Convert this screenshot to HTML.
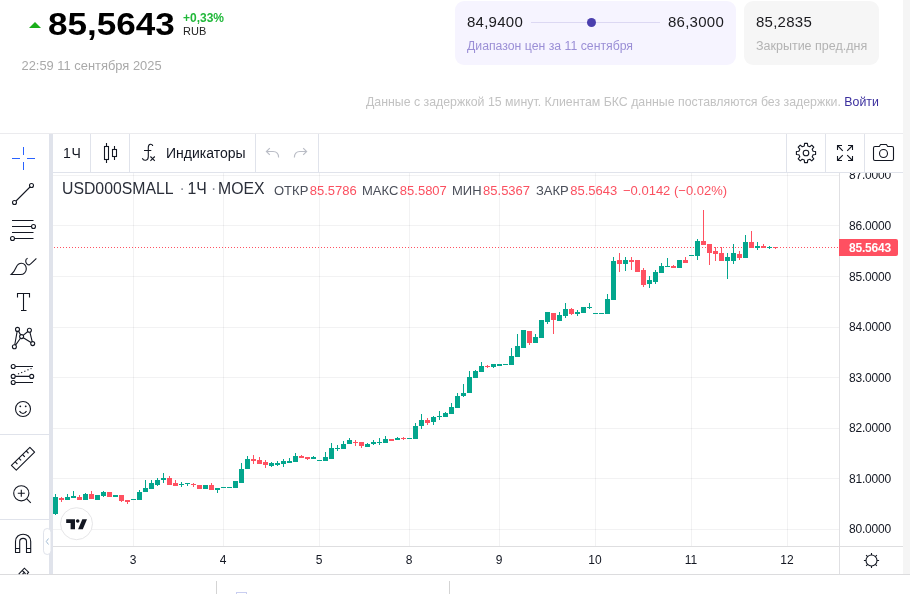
<!DOCTYPE html>
<html lang="ru"><head><meta charset="utf-8"><title>USD000SMALL</title>
<style>
*{box-sizing:border-box;margin:0;padding:0}
html,body{width:910px;height:594px;overflow:hidden;background:#fff}
body{position:relative;font-family:"Liberation Sans",sans-serif;color:#131722}
.abs{position:absolute;white-space:nowrap}
.strip{left:903px;top:0;width:7px;height:574px;background:#f5f5f5}
.big{left:48px;top:7px;font-size:30.5px;line-height:34px;font-weight:700;color:#000;transform:scaleX(1.15);transform-origin:0 0;letter-spacing:0}
.tri{left:29px;top:22px;width:0;height:0;border-left:6px solid transparent;border-right:6px solid transparent;border-bottom:6px solid #1aae1a}
.pct{left:183px;top:11px;font-size:12px;line-height:14px;font-weight:700;color:#21b83a}
.rub{left:183px;top:25px;font-size:11px;line-height:13px;color:#222}
.date{left:21.500px;top:58px;font-size:12.900px;line-height:16px;color:#a9a9a9}
.box1{left:455px;top:1px;width:281px;height:64px;border-radius:9px;background:#f6f4ff}
.box2{left:744px;top:1px;width:135px;height:64px;border-radius:9px;background:#f6f6f6}
.v{font-size:15px;line-height:18px;color:#1b1b1f;letter-spacing:0.250px}
.cap1{left:467px;top:38px;font-size:12.28px;line-height:16px;color:#9b8fd6}
.cap2{left:756px;top:38px;font-size:12.5px;line-height:16px;color:#b3b3b3}
.rline{left:531px;top:22px;width:129px;height:1px;background:#dcd8f3}
.rdot{left:587px;top:18px;width:9px;height:9px;border-radius:50%;background:#4b3fae}
.note{left:366px;top:94px;font-size:12.33px;line-height:16px;color:#c2c2c2}
.note b{font-weight:400;color:#3b2f9e}
.sep{background:#e0e3eb}
.tb{font-size:14px;line-height:16px;color:#131722}
.t16{top:179px;font-size:15.800px;line-height:20px;color:#2a2e39} .t16.dot{color:#8a8e99}
.leg{top:183px;font-size:13px;line-height:16px}
.leg .g{color:#4a4e59;margin-right:1.500px} .leg .r{color:#fb5060}
.pl{position:absolute;left:849px;width:44px;font-size:12px;line-height:16px;color:#131722;white-space:nowrap;letter-spacing:-0.200px}
.tl{position:absolute;top:552px;width:40px;text-align:center;font-size:12px;line-height:16px;color:#131722}
svg{position:absolute;left:0;top:0;overflow:visible}
.ic{fill:none;stroke:#131722;stroke-width:1}
</style></head><body>
<div class="abs strip"></div>

<div class="abs tri"></div>
<div class="abs big">85,5643</div>
<div class="abs pct">+0,33%</div>
<div class="abs rub">RUB</div>
<div class="abs date">22:59 11 сентября 2025</div>

<div class="abs box1"></div>
<div class="abs v" style="left:467px;top:13px">84,9400</div>
<div class="abs rline"></div><div class="abs rdot"></div>
<div class="abs v" style="left:668px;top:13px">86,3000</div>
<div class="abs cap1">Диапазон цен за 11 сентября</div>
<div class="abs box2"></div>
<div class="abs v" style="left:756px;top:13px">85,2835</div>
<div class="abs cap2">Закрытие пред.дня</div>

<div class="abs note">Данные с задержкой 15 минут. Клиентам БКС данные поставляются без задержки. <b>Войти</b></div>

<!-- widget frame -->
<div class="abs" style="left:0;top:133px;width:903px;height:1px;background:#ebebee"></div>
<div class="abs" style="left:0;top:574px;width:910px;height:1px;background:#dcdcde"></div>
<div class="abs sep" style="left:49px;top:134px;width:4px;height:440px"></div>
<div class="abs sep" style="left:53px;top:172px;width:850px;height:1px"></div>
<!-- top toolbar separators -->
<div class="abs sep" style="left:90px;top:134px;width:1px;height:38px"></div>
<div class="abs sep" style="left:129px;top:134px;width:1px;height:38px"></div>
<div class="abs sep" style="left:255px;top:134px;width:1px;height:38px"></div>
<div class="abs sep" style="left:318px;top:134px;width:1px;height:38px"></div>
<div class="abs sep" style="left:786px;top:134px;width:1px;height:38px"></div>
<div class="abs sep" style="left:825px;top:134px;width:1px;height:38px"></div>
<div class="abs sep" style="left:864px;top:134px;width:1px;height:38px"></div>
<!-- left toolbar separators -->
<div class="abs sep" style="left:0;top:434px;width:49px;height:1px"></div>
<div class="abs sep" style="left:0;top:519px;width:49px;height:1px"></div>

<div class="abs tb" style="left:63px;top:145px;letter-spacing:0.600px">1Ч</div>
<div class="abs tb" style="left:166px;top:145px">Индикаторы</div>

<!-- chart pane -->
<svg width="910" height="594" viewBox="0 0 910 594" shape-rendering="crispEdges">
<rect x="53" y="175" width="786" height="1" fill="#2a2e39" fill-opacity="0.062"/><rect x="53" y="225" width="786" height="1" fill="#2a2e39" fill-opacity="0.062"/><rect x="53" y="276" width="786" height="1" fill="#2a2e39" fill-opacity="0.062"/><rect x="53" y="327" width="786" height="1" fill="#2a2e39" fill-opacity="0.062"/><rect x="53" y="377" width="786" height="1" fill="#2a2e39" fill-opacity="0.062"/><rect x="53" y="428" width="786" height="1" fill="#2a2e39" fill-opacity="0.062"/><rect x="53" y="478" width="786" height="1" fill="#2a2e39" fill-opacity="0.062"/><rect x="53" y="529" width="786" height="1" fill="#2a2e39" fill-opacity="0.062"/><rect x="133" y="173" width="1" height="373" fill="#2a2e39" fill-opacity="0.062"/><rect x="223" y="173" width="1" height="373" fill="#2a2e39" fill-opacity="0.062"/><rect x="319" y="173" width="1" height="373" fill="#2a2e39" fill-opacity="0.062"/><rect x="409" y="173" width="1" height="373" fill="#2a2e39" fill-opacity="0.062"/><rect x="499" y="173" width="1" height="373" fill="#2a2e39" fill-opacity="0.062"/><rect x="595" y="173" width="1" height="373" fill="#2a2e39" fill-opacity="0.062"/><rect x="691" y="173" width="1" height="373" fill="#2a2e39" fill-opacity="0.062"/><rect x="787" y="173" width="1" height="373" fill="#2a2e39" fill-opacity="0.062"/>
<rect x="839" y="173" width="1" height="401" fill="#e0e0e3"/>
<rect x="53" y="546" width="850" height="1" fill="#dedee0"/>
<g id="dotline"><rect x="54" y="247" width="1" height="1" fill="#ff5161"/><rect x="57" y="247" width="1" height="1" fill="#ff5161"/><rect x="60" y="247" width="1" height="1" fill="#ff5161"/><rect x="63" y="247" width="1" height="1" fill="#ff5161"/><rect x="66" y="247" width="1" height="1" fill="#ff5161"/><rect x="69" y="247" width="1" height="1" fill="#ff5161"/><rect x="72" y="247" width="1" height="1" fill="#ff5161"/><rect x="75" y="247" width="1" height="1" fill="#ff5161"/><rect x="78" y="247" width="1" height="1" fill="#ff5161"/><rect x="81" y="247" width="1" height="1" fill="#ff5161"/><rect x="84" y="247" width="1" height="1" fill="#ff5161"/><rect x="87" y="247" width="1" height="1" fill="#ff5161"/><rect x="90" y="247" width="1" height="1" fill="#ff5161"/><rect x="93" y="247" width="1" height="1" fill="#ff5161"/><rect x="96" y="247" width="1" height="1" fill="#ff5161"/><rect x="99" y="247" width="1" height="1" fill="#ff5161"/><rect x="102" y="247" width="1" height="1" fill="#ff5161"/><rect x="105" y="247" width="1" height="1" fill="#ff5161"/><rect x="108" y="247" width="1" height="1" fill="#ff5161"/><rect x="111" y="247" width="1" height="1" fill="#ff5161"/><rect x="114" y="247" width="1" height="1" fill="#ff5161"/><rect x="117" y="247" width="1" height="1" fill="#ff5161"/><rect x="120" y="247" width="1" height="1" fill="#ff5161"/><rect x="123" y="247" width="1" height="1" fill="#ff5161"/><rect x="126" y="247" width="1" height="1" fill="#ff5161"/><rect x="129" y="247" width="1" height="1" fill="#ff5161"/><rect x="132" y="247" width="1" height="1" fill="#ff5161"/><rect x="135" y="247" width="1" height="1" fill="#ff5161"/><rect x="138" y="247" width="1" height="1" fill="#ff5161"/><rect x="141" y="247" width="1" height="1" fill="#ff5161"/><rect x="144" y="247" width="1" height="1" fill="#ff5161"/><rect x="147" y="247" width="1" height="1" fill="#ff5161"/><rect x="150" y="247" width="1" height="1" fill="#ff5161"/><rect x="153" y="247" width="1" height="1" fill="#ff5161"/><rect x="156" y="247" width="1" height="1" fill="#ff5161"/><rect x="159" y="247" width="1" height="1" fill="#ff5161"/><rect x="162" y="247" width="1" height="1" fill="#ff5161"/><rect x="165" y="247" width="1" height="1" fill="#ff5161"/><rect x="168" y="247" width="1" height="1" fill="#ff5161"/><rect x="171" y="247" width="1" height="1" fill="#ff5161"/><rect x="174" y="247" width="1" height="1" fill="#ff5161"/><rect x="177" y="247" width="1" height="1" fill="#ff5161"/><rect x="180" y="247" width="1" height="1" fill="#ff5161"/><rect x="183" y="247" width="1" height="1" fill="#ff5161"/><rect x="186" y="247" width="1" height="1" fill="#ff5161"/><rect x="189" y="247" width="1" height="1" fill="#ff5161"/><rect x="192" y="247" width="1" height="1" fill="#ff5161"/><rect x="195" y="247" width="1" height="1" fill="#ff5161"/><rect x="198" y="247" width="1" height="1" fill="#ff5161"/><rect x="201" y="247" width="1" height="1" fill="#ff5161"/><rect x="204" y="247" width="1" height="1" fill="#ff5161"/><rect x="207" y="247" width="1" height="1" fill="#ff5161"/><rect x="210" y="247" width="1" height="1" fill="#ff5161"/><rect x="213" y="247" width="1" height="1" fill="#ff5161"/><rect x="216" y="247" width="1" height="1" fill="#ff5161"/><rect x="219" y="247" width="1" height="1" fill="#ff5161"/><rect x="222" y="247" width="1" height="1" fill="#ff5161"/><rect x="225" y="247" width="1" height="1" fill="#ff5161"/><rect x="228" y="247" width="1" height="1" fill="#ff5161"/><rect x="231" y="247" width="1" height="1" fill="#ff5161"/><rect x="234" y="247" width="1" height="1" fill="#ff5161"/><rect x="237" y="247" width="1" height="1" fill="#ff5161"/><rect x="240" y="247" width="1" height="1" fill="#ff5161"/><rect x="243" y="247" width="1" height="1" fill="#ff5161"/><rect x="246" y="247" width="1" height="1" fill="#ff5161"/><rect x="249" y="247" width="1" height="1" fill="#ff5161"/><rect x="252" y="247" width="1" height="1" fill="#ff5161"/><rect x="255" y="247" width="1" height="1" fill="#ff5161"/><rect x="258" y="247" width="1" height="1" fill="#ff5161"/><rect x="261" y="247" width="1" height="1" fill="#ff5161"/><rect x="264" y="247" width="1" height="1" fill="#ff5161"/><rect x="267" y="247" width="1" height="1" fill="#ff5161"/><rect x="270" y="247" width="1" height="1" fill="#ff5161"/><rect x="273" y="247" width="1" height="1" fill="#ff5161"/><rect x="276" y="247" width="1" height="1" fill="#ff5161"/><rect x="279" y="247" width="1" height="1" fill="#ff5161"/><rect x="282" y="247" width="1" height="1" fill="#ff5161"/><rect x="285" y="247" width="1" height="1" fill="#ff5161"/><rect x="288" y="247" width="1" height="1" fill="#ff5161"/><rect x="291" y="247" width="1" height="1" fill="#ff5161"/><rect x="294" y="247" width="1" height="1" fill="#ff5161"/><rect x="297" y="247" width="1" height="1" fill="#ff5161"/><rect x="300" y="247" width="1" height="1" fill="#ff5161"/><rect x="303" y="247" width="1" height="1" fill="#ff5161"/><rect x="306" y="247" width="1" height="1" fill="#ff5161"/><rect x="309" y="247" width="1" height="1" fill="#ff5161"/><rect x="312" y="247" width="1" height="1" fill="#ff5161"/><rect x="315" y="247" width="1" height="1" fill="#ff5161"/><rect x="318" y="247" width="1" height="1" fill="#ff5161"/><rect x="321" y="247" width="1" height="1" fill="#ff5161"/><rect x="324" y="247" width="1" height="1" fill="#ff5161"/><rect x="327" y="247" width="1" height="1" fill="#ff5161"/><rect x="330" y="247" width="1" height="1" fill="#ff5161"/><rect x="333" y="247" width="1" height="1" fill="#ff5161"/><rect x="336" y="247" width="1" height="1" fill="#ff5161"/><rect x="339" y="247" width="1" height="1" fill="#ff5161"/><rect x="342" y="247" width="1" height="1" fill="#ff5161"/><rect x="345" y="247" width="1" height="1" fill="#ff5161"/><rect x="348" y="247" width="1" height="1" fill="#ff5161"/><rect x="351" y="247" width="1" height="1" fill="#ff5161"/><rect x="354" y="247" width="1" height="1" fill="#ff5161"/><rect x="357" y="247" width="1" height="1" fill="#ff5161"/><rect x="360" y="247" width="1" height="1" fill="#ff5161"/><rect x="363" y="247" width="1" height="1" fill="#ff5161"/><rect x="366" y="247" width="1" height="1" fill="#ff5161"/><rect x="369" y="247" width="1" height="1" fill="#ff5161"/><rect x="372" y="247" width="1" height="1" fill="#ff5161"/><rect x="375" y="247" width="1" height="1" fill="#ff5161"/><rect x="378" y="247" width="1" height="1" fill="#ff5161"/><rect x="381" y="247" width="1" height="1" fill="#ff5161"/><rect x="384" y="247" width="1" height="1" fill="#ff5161"/><rect x="387" y="247" width="1" height="1" fill="#ff5161"/><rect x="390" y="247" width="1" height="1" fill="#ff5161"/><rect x="393" y="247" width="1" height="1" fill="#ff5161"/><rect x="396" y="247" width="1" height="1" fill="#ff5161"/><rect x="399" y="247" width="1" height="1" fill="#ff5161"/><rect x="402" y="247" width="1" height="1" fill="#ff5161"/><rect x="405" y="247" width="1" height="1" fill="#ff5161"/><rect x="408" y="247" width="1" height="1" fill="#ff5161"/><rect x="411" y="247" width="1" height="1" fill="#ff5161"/><rect x="414" y="247" width="1" height="1" fill="#ff5161"/><rect x="417" y="247" width="1" height="1" fill="#ff5161"/><rect x="420" y="247" width="1" height="1" fill="#ff5161"/><rect x="423" y="247" width="1" height="1" fill="#ff5161"/><rect x="426" y="247" width="1" height="1" fill="#ff5161"/><rect x="429" y="247" width="1" height="1" fill="#ff5161"/><rect x="432" y="247" width="1" height="1" fill="#ff5161"/><rect x="435" y="247" width="1" height="1" fill="#ff5161"/><rect x="438" y="247" width="1" height="1" fill="#ff5161"/><rect x="441" y="247" width="1" height="1" fill="#ff5161"/><rect x="444" y="247" width="1" height="1" fill="#ff5161"/><rect x="447" y="247" width="1" height="1" fill="#ff5161"/><rect x="450" y="247" width="1" height="1" fill="#ff5161"/><rect x="453" y="247" width="1" height="1" fill="#ff5161"/><rect x="456" y="247" width="1" height="1" fill="#ff5161"/><rect x="459" y="247" width="1" height="1" fill="#ff5161"/><rect x="462" y="247" width="1" height="1" fill="#ff5161"/><rect x="465" y="247" width="1" height="1" fill="#ff5161"/><rect x="468" y="247" width="1" height="1" fill="#ff5161"/><rect x="471" y="247" width="1" height="1" fill="#ff5161"/><rect x="474" y="247" width="1" height="1" fill="#ff5161"/><rect x="477" y="247" width="1" height="1" fill="#ff5161"/><rect x="480" y="247" width="1" height="1" fill="#ff5161"/><rect x="483" y="247" width="1" height="1" fill="#ff5161"/><rect x="486" y="247" width="1" height="1" fill="#ff5161"/><rect x="489" y="247" width="1" height="1" fill="#ff5161"/><rect x="492" y="247" width="1" height="1" fill="#ff5161"/><rect x="495" y="247" width="1" height="1" fill="#ff5161"/><rect x="498" y="247" width="1" height="1" fill="#ff5161"/><rect x="501" y="247" width="1" height="1" fill="#ff5161"/><rect x="504" y="247" width="1" height="1" fill="#ff5161"/><rect x="507" y="247" width="1" height="1" fill="#ff5161"/><rect x="510" y="247" width="1" height="1" fill="#ff5161"/><rect x="513" y="247" width="1" height="1" fill="#ff5161"/><rect x="516" y="247" width="1" height="1" fill="#ff5161"/><rect x="519" y="247" width="1" height="1" fill="#ff5161"/><rect x="522" y="247" width="1" height="1" fill="#ff5161"/><rect x="525" y="247" width="1" height="1" fill="#ff5161"/><rect x="528" y="247" width="1" height="1" fill="#ff5161"/><rect x="531" y="247" width="1" height="1" fill="#ff5161"/><rect x="534" y="247" width="1" height="1" fill="#ff5161"/><rect x="537" y="247" width="1" height="1" fill="#ff5161"/><rect x="540" y="247" width="1" height="1" fill="#ff5161"/><rect x="543" y="247" width="1" height="1" fill="#ff5161"/><rect x="546" y="247" width="1" height="1" fill="#ff5161"/><rect x="549" y="247" width="1" height="1" fill="#ff5161"/><rect x="552" y="247" width="1" height="1" fill="#ff5161"/><rect x="555" y="247" width="1" height="1" fill="#ff5161"/><rect x="558" y="247" width="1" height="1" fill="#ff5161"/><rect x="561" y="247" width="1" height="1" fill="#ff5161"/><rect x="564" y="247" width="1" height="1" fill="#ff5161"/><rect x="567" y="247" width="1" height="1" fill="#ff5161"/><rect x="570" y="247" width="1" height="1" fill="#ff5161"/><rect x="573" y="247" width="1" height="1" fill="#ff5161"/><rect x="576" y="247" width="1" height="1" fill="#ff5161"/><rect x="579" y="247" width="1" height="1" fill="#ff5161"/><rect x="582" y="247" width="1" height="1" fill="#ff5161"/><rect x="585" y="247" width="1" height="1" fill="#ff5161"/><rect x="588" y="247" width="1" height="1" fill="#ff5161"/><rect x="591" y="247" width="1" height="1" fill="#ff5161"/><rect x="594" y="247" width="1" height="1" fill="#ff5161"/><rect x="597" y="247" width="1" height="1" fill="#ff5161"/><rect x="600" y="247" width="1" height="1" fill="#ff5161"/><rect x="603" y="247" width="1" height="1" fill="#ff5161"/><rect x="606" y="247" width="1" height="1" fill="#ff5161"/><rect x="609" y="247" width="1" height="1" fill="#ff5161"/><rect x="612" y="247" width="1" height="1" fill="#ff5161"/><rect x="615" y="247" width="1" height="1" fill="#ff5161"/><rect x="618" y="247" width="1" height="1" fill="#ff5161"/><rect x="621" y="247" width="1" height="1" fill="#ff5161"/><rect x="624" y="247" width="1" height="1" fill="#ff5161"/><rect x="627" y="247" width="1" height="1" fill="#ff5161"/><rect x="630" y="247" width="1" height="1" fill="#ff5161"/><rect x="633" y="247" width="1" height="1" fill="#ff5161"/><rect x="636" y="247" width="1" height="1" fill="#ff5161"/><rect x="639" y="247" width="1" height="1" fill="#ff5161"/><rect x="642" y="247" width="1" height="1" fill="#ff5161"/><rect x="645" y="247" width="1" height="1" fill="#ff5161"/><rect x="648" y="247" width="1" height="1" fill="#ff5161"/><rect x="651" y="247" width="1" height="1" fill="#ff5161"/><rect x="654" y="247" width="1" height="1" fill="#ff5161"/><rect x="657" y="247" width="1" height="1" fill="#ff5161"/><rect x="660" y="247" width="1" height="1" fill="#ff5161"/><rect x="663" y="247" width="1" height="1" fill="#ff5161"/><rect x="666" y="247" width="1" height="1" fill="#ff5161"/><rect x="669" y="247" width="1" height="1" fill="#ff5161"/><rect x="672" y="247" width="1" height="1" fill="#ff5161"/><rect x="675" y="247" width="1" height="1" fill="#ff5161"/><rect x="678" y="247" width="1" height="1" fill="#ff5161"/><rect x="681" y="247" width="1" height="1" fill="#ff5161"/><rect x="684" y="247" width="1" height="1" fill="#ff5161"/><rect x="687" y="247" width="1" height="1" fill="#ff5161"/><rect x="690" y="247" width="1" height="1" fill="#ff5161"/><rect x="693" y="247" width="1" height="1" fill="#ff5161"/><rect x="696" y="247" width="1" height="1" fill="#ff5161"/><rect x="699" y="247" width="1" height="1" fill="#ff5161"/><rect x="702" y="247" width="1" height="1" fill="#ff5161"/><rect x="705" y="247" width="1" height="1" fill="#ff5161"/><rect x="708" y="247" width="1" height="1" fill="#ff5161"/><rect x="711" y="247" width="1" height="1" fill="#ff5161"/><rect x="714" y="247" width="1" height="1" fill="#ff5161"/><rect x="717" y="247" width="1" height="1" fill="#ff5161"/><rect x="720" y="247" width="1" height="1" fill="#ff5161"/><rect x="723" y="247" width="1" height="1" fill="#ff5161"/><rect x="726" y="247" width="1" height="1" fill="#ff5161"/><rect x="729" y="247" width="1" height="1" fill="#ff5161"/><rect x="732" y="247" width="1" height="1" fill="#ff5161"/><rect x="735" y="247" width="1" height="1" fill="#ff5161"/><rect x="738" y="247" width="1" height="1" fill="#ff5161"/><rect x="741" y="247" width="1" height="1" fill="#ff5161"/><rect x="744" y="247" width="1" height="1" fill="#ff5161"/><rect x="747" y="247" width="1" height="1" fill="#ff5161"/><rect x="750" y="247" width="1" height="1" fill="#ff5161"/><rect x="753" y="247" width="1" height="1" fill="#ff5161"/><rect x="756" y="247" width="1" height="1" fill="#ff5161"/><rect x="759" y="247" width="1" height="1" fill="#ff5161"/><rect x="762" y="247" width="1" height="1" fill="#ff5161"/><rect x="765" y="247" width="1" height="1" fill="#ff5161"/><rect x="768" y="247" width="1" height="1" fill="#ff5161"/><rect x="771" y="247" width="1" height="1" fill="#ff5161"/><rect x="774" y="247" width="1" height="1" fill="#ff5161"/><rect x="777" y="247" width="1" height="1" fill="#ff5161"/><rect x="780" y="247" width="1" height="1" fill="#ff5161"/><rect x="783" y="247" width="1" height="1" fill="#ff5161"/><rect x="786" y="247" width="1" height="1" fill="#ff5161"/><rect x="789" y="247" width="1" height="1" fill="#ff5161"/><rect x="792" y="247" width="1" height="1" fill="#ff5161"/><rect x="795" y="247" width="1" height="1" fill="#ff5161"/><rect x="798" y="247" width="1" height="1" fill="#ff5161"/><rect x="801" y="247" width="1" height="1" fill="#ff5161"/><rect x="804" y="247" width="1" height="1" fill="#ff5161"/><rect x="807" y="247" width="1" height="1" fill="#ff5161"/><rect x="810" y="247" width="1" height="1" fill="#ff5161"/><rect x="813" y="247" width="1" height="1" fill="#ff5161"/><rect x="816" y="247" width="1" height="1" fill="#ff5161"/><rect x="819" y="247" width="1" height="1" fill="#ff5161"/><rect x="822" y="247" width="1" height="1" fill="#ff5161"/><rect x="825" y="247" width="1" height="1" fill="#ff5161"/><rect x="828" y="247" width="1" height="1" fill="#ff5161"/><rect x="831" y="247" width="1" height="1" fill="#ff5161"/><rect x="834" y="247" width="1" height="1" fill="#ff5161"/><rect x="837" y="247" width="1" height="1" fill="#ff5161"/></g>
<svg x="53" y="174" width="786" height="372" viewBox="53 174 786 372" style="position:static">
<rect x="53" y="497" width="5" height="17" fill="#03a68d"/>
<rect x="55" y="494" width="1" height="21" fill="#03a68d"/>
<rect x="59" y="498" width="5" height="2" fill="#ff5161"/>
<rect x="61" y="497" width="1" height="5" fill="#ff5161"/>
<rect x="65" y="497" width="5" height="3" fill="#03a68d"/>
<rect x="67" y="494" width="1" height="6" fill="#03a68d"/>
<rect x="71" y="496" width="5" height="2" fill="#03a68d"/>
<rect x="73" y="491" width="1" height="7" fill="#03a68d"/>
<rect x="77" y="497" width="5" height="3" fill="#ff5161"/>
<rect x="79" y="495" width="1" height="5" fill="#ff5161"/>
<rect x="83" y="494" width="5" height="6" fill="#03a68d"/>
<rect x="85" y="493" width="1" height="7" fill="#03a68d"/>
<rect x="89" y="494" width="5" height="5" fill="#ff5161"/>
<rect x="91" y="491" width="1" height="8" fill="#ff5161"/>
<rect x="95" y="495" width="5" height="5" fill="#03a68d"/>
<rect x="101" y="492" width="5" height="4" fill="#03a68d"/>
<rect x="103" y="491" width="1" height="6" fill="#03a68d"/>
<rect x="107" y="492" width="5" height="5" fill="#ff5161"/>
<rect x="113" y="495" width="5" height="2" fill="#03a68d"/>
<rect x="119" y="495" width="5" height="6" fill="#ff5161"/>
<rect x="121" y="495" width="1" height="7" fill="#ff5161"/>
<rect x="125" y="500" width="5" height="2" fill="#ff5161"/>
<rect x="127" y="500" width="1" height="4" fill="#ff5161"/>
<rect x="131" y="499" width="5" height="1" fill="#03a68d"/>
<rect x="137" y="492" width="5" height="8" fill="#03a68d"/>
<rect x="139" y="490" width="1" height="10" fill="#03a68d"/>
<rect x="143" y="488" width="5" height="4" fill="#03a68d"/>
<rect x="145" y="480" width="1" height="12" fill="#03a68d"/>
<rect x="149" y="483" width="5" height="6" fill="#03a68d"/>
<rect x="151" y="480" width="1" height="9" fill="#03a68d"/>
<rect x="155" y="480" width="5" height="5" fill="#03a68d"/>
<rect x="157" y="478" width="1" height="8" fill="#03a68d"/>
<rect x="161" y="478" width="5" height="2" fill="#03a68d"/>
<rect x="163" y="473" width="1" height="10" fill="#03a68d"/>
<rect x="167" y="478" width="5" height="7" fill="#ff5161"/>
<rect x="169" y="476" width="1" height="9" fill="#ff5161"/>
<rect x="173" y="483" width="5" height="3" fill="#ff5161"/>
<rect x="175" y="480" width="1" height="6" fill="#ff5161"/>
<rect x="179" y="484" width="5" height="1" fill="#03a68d"/>
<rect x="181" y="482" width="1" height="5" fill="#03a68d"/>
<rect x="185" y="483" width="5" height="1" fill="#03a68d"/>
<rect x="187" y="483" width="1" height="3" fill="#03a68d"/>
<rect x="191" y="484" width="5" height="1" fill="#ff5161"/>
<rect x="193" y="483" width="1" height="4" fill="#ff5161"/>
<rect x="197" y="485" width="5" height="4" fill="#ff5161"/>
<rect x="203" y="485" width="5" height="4" fill="#03a68d"/>
<rect x="209" y="485" width="5" height="5" fill="#ff5161"/>
<rect x="211" y="483" width="1" height="7" fill="#ff5161"/>
<rect x="215" y="488" width="5" height="2" fill="#03a68d"/>
<rect x="217" y="488" width="1" height="5" fill="#03a68d"/>
<rect x="221" y="487" width="5" height="1" fill="#03a68d"/>
<rect x="227" y="487" width="5" height="1" fill="#03a68d"/>
<rect x="233" y="481" width="5" height="7" fill="#03a68d"/>
<rect x="239" y="469" width="5" height="14" fill="#03a68d"/>
<rect x="241" y="463" width="1" height="20" fill="#03a68d"/>
<rect x="245" y="459" width="5" height="10" fill="#03a68d"/>
<rect x="247" y="456" width="1" height="13" fill="#03a68d"/>
<rect x="251" y="459" width="5" height="2" fill="#ff5161"/>
<rect x="253" y="455" width="1" height="9" fill="#ff5161"/>
<rect x="257" y="460" width="5" height="4" fill="#ff5161"/>
<rect x="259" y="457" width="1" height="7" fill="#ff5161"/>
<rect x="263" y="462" width="5" height="3" fill="#ff5161"/>
<rect x="265" y="460" width="1" height="8" fill="#ff5161"/>
<rect x="269" y="463" width="5" height="3" fill="#03a68d"/>
<rect x="271" y="462" width="1" height="5" fill="#03a68d"/>
<rect x="275" y="463" width="5" height="2" fill="#03a68d"/>
<rect x="277" y="461" width="1" height="5" fill="#03a68d"/>
<rect x="281" y="461" width="5" height="3" fill="#03a68d"/>
<rect x="283" y="459" width="1" height="8" fill="#03a68d"/>
<rect x="287" y="461" width="5" height="2" fill="#03a68d"/>
<rect x="289" y="458" width="1" height="5" fill="#03a68d"/>
<rect x="293" y="456" width="5" height="6" fill="#03a68d"/>
<rect x="295" y="453" width="1" height="9" fill="#03a68d"/>
<rect x="299" y="456" width="5" height="2" fill="#ff5161"/>
<rect x="301" y="455" width="1" height="3" fill="#ff5161"/>
<rect x="305" y="457" width="5" height="2" fill="#ff5161"/>
<rect x="307" y="457" width="1" height="3" fill="#ff5161"/>
<rect x="311" y="457" width="5" height="2" fill="#03a68d"/>
<rect x="313" y="456" width="1" height="3" fill="#03a68d"/>
<rect x="317" y="460" width="5" height="1" fill="#03a68d"/>
<rect x="323" y="457" width="5" height="4" fill="#03a68d"/>
<rect x="325" y="452" width="1" height="9" fill="#03a68d"/>
<rect x="329" y="448" width="5" height="11" fill="#03a68d"/>
<rect x="331" y="443" width="1" height="16" fill="#03a68d"/>
<rect x="335" y="448" width="5" height="1" fill="#03a68d"/>
<rect x="337" y="445" width="1" height="6" fill="#03a68d"/>
<rect x="341" y="444" width="5" height="5" fill="#03a68d"/>
<rect x="343" y="441" width="1" height="8" fill="#03a68d"/>
<rect x="347" y="440" width="5" height="4" fill="#03a68d"/>
<rect x="349" y="438" width="1" height="6" fill="#03a68d"/>
<rect x="353" y="442" width="5" height="1" fill="#ff5161"/>
<rect x="355" y="440" width="1" height="6" fill="#ff5161"/>
<rect x="359" y="442" width="5" height="4" fill="#ff5161"/>
<rect x="361" y="442" width="1" height="6" fill="#ff5161"/>
<rect x="365" y="444" width="5" height="3" fill="#03a68d"/>
<rect x="367" y="443" width="1" height="4" fill="#03a68d"/>
<rect x="371" y="442" width="5" height="2" fill="#03a68d"/>
<rect x="373" y="440" width="1" height="5" fill="#03a68d"/>
<rect x="377" y="442" width="5" height="1" fill="#03a68d"/>
<rect x="379" y="438" width="1" height="7" fill="#03a68d"/>
<rect x="383" y="439" width="5" height="4" fill="#03a68d"/>
<rect x="385" y="436" width="1" height="7" fill="#03a68d"/>
<rect x="389" y="439" width="5" height="2" fill="#ff5161"/>
<rect x="395" y="438" width="5" height="2" fill="#03a68d"/>
<rect x="397" y="437" width="1" height="3" fill="#03a68d"/>
<rect x="401" y="438" width="5" height="1" fill="#ff5161"/>
<rect x="403" y="437" width="1" height="3" fill="#ff5161"/>
<rect x="407" y="438" width="5" height="1" fill="#03a68d"/>
<rect x="413" y="426" width="5" height="13" fill="#03a68d"/>
<rect x="415" y="423" width="1" height="16" fill="#03a68d"/>
<rect x="419" y="420" width="5" height="6" fill="#03a68d"/>
<rect x="421" y="414" width="1" height="15" fill="#03a68d"/>
<rect x="425" y="420" width="5" height="3" fill="#ff5161"/>
<rect x="427" y="418" width="1" height="7" fill="#ff5161"/>
<rect x="431" y="417" width="5" height="5" fill="#03a68d"/>
<rect x="433" y="416" width="1" height="9" fill="#03a68d"/>
<rect x="437" y="416" width="5" height="1" fill="#03a68d"/>
<rect x="439" y="411" width="1" height="9" fill="#03a68d"/>
<rect x="443" y="413" width="5" height="4" fill="#03a68d"/>
<rect x="445" y="412" width="1" height="5" fill="#03a68d"/>
<rect x="449" y="407" width="5" height="7" fill="#03a68d"/>
<rect x="451" y="403" width="1" height="11" fill="#03a68d"/>
<rect x="455" y="396" width="5" height="12" fill="#03a68d"/>
<rect x="457" y="393" width="1" height="15" fill="#03a68d"/>
<rect x="461" y="393" width="5" height="3" fill="#03a68d"/>
<rect x="463" y="384" width="1" height="13" fill="#03a68d"/>
<rect x="467" y="377" width="5" height="16" fill="#03a68d"/>
<rect x="469" y="371" width="1" height="22" fill="#03a68d"/>
<rect x="473" y="371" width="5" height="7" fill="#03a68d"/>
<rect x="475" y="370" width="1" height="8" fill="#03a68d"/>
<rect x="479" y="366" width="5" height="6" fill="#03a68d"/>
<rect x="481" y="362" width="1" height="10" fill="#03a68d"/>
<rect x="485" y="366" width="5" height="1" fill="#ff5161"/>
<rect x="487" y="365" width="1" height="3" fill="#ff5161"/>
<rect x="491" y="364" width="5" height="3" fill="#03a68d"/>
<rect x="493" y="364" width="1" height="4" fill="#03a68d"/>
<rect x="497" y="364" width="5" height="2" fill="#03a68d"/>
<rect x="503" y="364" width="5" height="1" fill="#03a68d"/>
<rect x="509" y="356" width="5" height="9" fill="#03a68d"/>
<rect x="511" y="348" width="1" height="17" fill="#03a68d"/>
<rect x="515" y="346" width="5" height="11" fill="#03a68d"/>
<rect x="517" y="334" width="1" height="23" fill="#03a68d"/>
<rect x="521" y="330" width="5" height="18" fill="#03a68d"/>
<rect x="527" y="331" width="5" height="12" fill="#ff5161"/>
<rect x="529" y="331" width="1" height="14" fill="#ff5161"/>
<rect x="533" y="337" width="5" height="6" fill="#03a68d"/>
<rect x="535" y="334" width="1" height="9" fill="#03a68d"/>
<rect x="539" y="320" width="5" height="18" fill="#03a68d"/>
<rect x="545" y="312" width="5" height="10" fill="#03a68d"/>
<rect x="547" y="312" width="1" height="12" fill="#03a68d"/>
<rect x="551" y="313" width="5" height="7" fill="#ff5161"/>
<rect x="553" y="313" width="1" height="21" fill="#ff5161"/>
<rect x="557" y="315" width="5" height="6" fill="#03a68d"/>
<rect x="559" y="312" width="1" height="9" fill="#03a68d"/>
<rect x="563" y="309" width="5" height="7" fill="#03a68d"/>
<rect x="565" y="303" width="1" height="15" fill="#03a68d"/>
<rect x="569" y="309" width="5" height="5" fill="#ff5161"/>
<rect x="571" y="308" width="1" height="7" fill="#ff5161"/>
<rect x="575" y="312" width="5" height="2" fill="#03a68d"/>
<rect x="577" y="310" width="1" height="6" fill="#03a68d"/>
<rect x="581" y="307" width="5" height="6" fill="#03a68d"/>
<rect x="587" y="307" width="5" height="1" fill="#03a68d"/>
<rect x="589" y="303" width="1" height="6" fill="#03a68d"/>
<rect x="593" y="313" width="5" height="1" fill="#03a68d"/>
<rect x="599" y="313" width="5" height="1" fill="#03a68d"/>
<rect x="605" y="299" width="5" height="15" fill="#03a68d"/>
<rect x="607" y="294" width="1" height="20" fill="#03a68d"/>
<rect x="611" y="261" width="5" height="39" fill="#03a68d"/>
<rect x="613" y="257" width="1" height="43" fill="#03a68d"/>
<rect x="617" y="260" width="5" height="4" fill="#ff5161"/>
<rect x="619" y="253" width="1" height="19" fill="#ff5161"/>
<rect x="623" y="260" width="5" height="4" fill="#03a68d"/>
<rect x="625" y="257" width="1" height="14" fill="#03a68d"/>
<rect x="629" y="260" width="5" height="2" fill="#ff5161"/>
<rect x="631" y="257" width="1" height="13" fill="#ff5161"/>
<rect x="635" y="260" width="5" height="12" fill="#ff5161"/>
<rect x="641" y="270" width="5" height="15" fill="#ff5161"/>
<rect x="643" y="268" width="1" height="19" fill="#ff5161"/>
<rect x="647" y="280" width="5" height="4" fill="#03a68d"/>
<rect x="649" y="276" width="1" height="12" fill="#03a68d"/>
<rect x="653" y="272" width="5" height="10" fill="#03a68d"/>
<rect x="655" y="270" width="1" height="14" fill="#03a68d"/>
<rect x="659" y="266" width="5" height="7" fill="#03a68d"/>
<rect x="661" y="263" width="1" height="10" fill="#03a68d"/>
<rect x="665" y="266" width="5" height="1" fill="#03a68d"/>
<rect x="667" y="258" width="1" height="9" fill="#03a68d"/>
<rect x="671" y="266" width="5" height="2" fill="#ff5161"/>
<rect x="673" y="265" width="1" height="3" fill="#ff5161"/>
<rect x="677" y="260" width="5" height="8" fill="#03a68d"/>
<rect x="683" y="260" width="5" height="3" fill="#ff5161"/>
<rect x="685" y="257" width="1" height="6" fill="#ff5161"/>
<rect x="689" y="255" width="5" height="1" fill="#03a68d"/>
<rect x="695" y="241" width="5" height="15" fill="#03a68d"/>
<rect x="697" y="239" width="1" height="21" fill="#03a68d"/>
<rect x="701" y="241" width="5" height="4" fill="#ff5161"/>
<rect x="703" y="210" width="1" height="35" fill="#ff5161"/>
<rect x="707" y="244" width="5" height="9" fill="#ff5161"/>
<rect x="709" y="244" width="1" height="21" fill="#ff5161"/>
<rect x="713" y="251" width="5" height="3" fill="#ff5161"/>
<rect x="715" y="247" width="1" height="14" fill="#ff5161"/>
<rect x="719" y="253" width="5" height="8" fill="#ff5161"/>
<rect x="721" y="247" width="1" height="14" fill="#ff5161"/>
<rect x="725" y="257" width="5" height="4" fill="#03a68d"/>
<rect x="727" y="253" width="1" height="26" fill="#03a68d"/>
<rect x="731" y="253" width="5" height="8" fill="#03a68d"/>
<rect x="733" y="244" width="1" height="20" fill="#03a68d"/>
<rect x="737" y="254" width="5" height="4" fill="#ff5161"/>
<rect x="739" y="251" width="1" height="9" fill="#ff5161"/>
<rect x="743" y="242" width="5" height="16" fill="#03a68d"/>
<rect x="745" y="235" width="1" height="23" fill="#03a68d"/>
<rect x="749" y="242" width="5" height="6" fill="#ff5161"/>
<rect x="751" y="231" width="1" height="17" fill="#ff5161"/>
<rect x="755" y="246" width="5" height="2" fill="#03a68d"/>
<rect x="757" y="242" width="1" height="8" fill="#03a68d"/>
<rect x="761" y="246" width="5" height="2" fill="#ff5161"/>
<rect x="763" y="244" width="1" height="4" fill="#ff5161"/>
<rect x="767" y="247" width="5" height="1" fill="#03a68d"/>
<rect x="769" y="246" width="1" height="3" fill="#03a68d"/>
<rect x="773" y="247" width="5" height="1" fill="#ff5161"/>
<rect x="775" y="247" width="1" height="2" fill="#ff5161"/>
</svg>
</svg>

<div class="abs" style="left:53px;top:173px;width:850px;height:373px;overflow:hidden">
<div style="position:absolute;left:-53px;top:-173px;width:910px;height:594px"><div class="pl" style="top:167px">87.0000</div><div class="pl" style="top:218px">86.0000</div><div class="pl" style="top:269px">85.0000</div><div class="pl" style="top:319px">84.0000</div><div class="pl" style="top:370px">83.0000</div><div class="pl" style="top:420px">82.0000</div><div class="pl" style="top:471px">81.0000</div><div class="pl" style="top:521px">80.0000</div></div>
</div>
<div class="abs" style="left:839px;top:239px;width:59px;height:17px;background:#ff5061;border-radius:0 2px 2px 0"></div>
<div class="abs" style="left:849px;top:240px;font-size:12px;line-height:16px;font-weight:700;color:#fff;letter-spacing:-0.200px">85.5643</div>
<div class="tl" style="left:113px">3</div><div class="tl" style="left:203px">4</div><div class="tl" style="left:299px">5</div><div class="tl" style="left:389px">8</div><div class="tl" style="left:479px">9</div><div class="tl" style="left:575px">10</div><div class="tl" style="left:671px">11</div><div class="tl" style="left:767px">12</div>

<div class="abs t16" style="left:62px">USD000SMALL</div><div class="abs t16 dot" style="left:179.500px">·</div><div class="abs t16" style="left:187.500px">1Ч</div><div class="abs t16 dot" style="left:211px">·</div><div class="abs t16" style="left:218px">MOEX</div>
<div class="abs leg" style="left:274px"><span class="g">ОТКР</span><span class="r">85.5786</span></div>
<div class="abs leg" style="left:362px"><span class="g">МАКС</span><span class="r">85.5807</span></div>
<div class="abs leg" style="left:452px"><span class="g">МИН</span><span class="r">85.5367</span></div>
<div class="abs leg" style="left:536px"><span class="g">ЗАКР</span><span class="r">85.5643</span></div>
<div class="abs leg" style="left:623px"><span class="r">−0.0142 (−0.02%)</span></div>

<!-- ICONS -->
<svg width="910" height="594" viewBox="0 0 910 594">
<g fill="#2962ff" shape-rendering="crispEdges"><rect x="12" y="158" width="8" height="1"/><rect x="27" y="158" width="8" height="1"/><rect x="23" y="147" width="1" height="8"/><rect x="23" y="162" width="1" height="8"/></g>
<g fill="none" stroke="#131722" stroke-width="1.1">
<circle cx="31.5" cy="185.5" r="2"/><circle cx="14.500" cy="202.500" r="2"/><path d="M16 201 L30 187"/>
<path d="M12 220.500H33.500 M12 226.500H31.500 M12 232.500H33.500 M14.500 238.500H33.500"/><circle cx="33.500" cy="226.500" r="2"/><circle cx="12.500" cy="238.500" r="2"/>
<path d="M11.200 274.500 C13.500 272.500 15 270 16.200 267.200 C17.200 264.800 19.500 263.300 21.600 263.300 C24.200 263.300 26.300 265.900 26.300 268.700 C26.300 271.800 24 274.500 20.500 274.500Z"/><path d="M27.600 258.200 C26.300 258.700 25.700 259.800 25.700 261 C25.700 263.300 27.600 265 29.200 264.900 C30 264.800 30.500 264.300 36.400 258.500"/>
<path d="M17.500 297.500V293.500H29.500V297.500 M23.500 293.500V310.500 M21 310.500H26.500"/>
<path d="M14.75 344.73L17.15 331.37 M18.49 331.14L20.61 334.86 M15.56 345.07L20.44 338.23 M23.15 335.33L27.85 331.47 M29.88 332.14L32.22 341.66 M23.29 337.67L31.01 342.53"/>
<circle cx="14.4" cy="346.7" r="2"/>
<circle cx="17.5" cy="329.4" r="2"/>
<circle cx="21.6" cy="336.6" r="2"/>
<circle cx="29.4" cy="330.2" r="2"/>
<circle cx="32.7" cy="343.6" r="2"/>
<circle cx="13.2" cy="366.5" r="2"/><circle cx="13.2" cy="376.400" r="2"/><circle cx="31.700" cy="376.400" r="2"/><circle cx="13.200" cy="382.500" r="2"/>
<path d="M15.200 366.500H33 M15.200 376.400H29.700 M15.200 382.500H33"/><path d="M18 374 L31.500 368.400" stroke-dasharray="1.2 2.200"/>
<circle cx="23" cy="409" r="7.500"/><path d="M19.500 411 C21 414.300 25 414.300 26.500 411"/>
<circle cx="20.300" cy="406.300" r="0.900" fill="#131722" stroke="none"/><circle cx="25.700" cy="406.300" r="0.900" fill="#131722" stroke="none"/>
<path d="M11.400 465.300 L29.900 447.300 L34.600 452.200 L16.300 470.200Z" stroke-linejoin="round"/>
<path d="M15.10 461.70 l2.300 2.350"/>
<path d="M18.80 458.10 l2.300 2.350"/>
<path d="M22.50 454.50 l2.300 2.350"/>
<path d="M26.20 450.90 l2.300 2.350"/>
<circle cx="21.300" cy="493.300" r="7.600"/><path d="M17.800 493.300H24.800 M21.300 489.800V496.800 M26.800 498.800 L30.800 502.800"/>
<path d="M15.500 552.500 V541.500 C15.500 531.800 30.700 531.800 30.700 541.500 V552.500 H26.500 V541.500 C26.500 537.300 19.700 537.300 19.700 541.500 V552.500Z M15.500 548.500H19.700 M26.500 548.500H30.700" stroke-linejoin="round"/>
<path d="M18.700 574.200 L24.400 568.200 L28.600 572.200 L27 574.200 M22.300 570.400 L25.600 573.900 M24.600 571.900 L22.600 574.200"/>
</g>
<rect x="43.500" y="528.500" width="7.500" height="26" rx="3.750" fill="#fff" stroke="#e0e3eb"/><path d="M48.500 538.500 L46.300 541.500 L48.500 544.500" fill="none" stroke="#a3bdd6" stroke-width="1"/>
<g fill="none" stroke="#131722" stroke-width="1.1">
<rect x="104.500" y="146.500" width="4" height="13"/><path d="M106.500 143V146.500 M106.500 159.500V163"/>
<rect x="112.500" y="149.500" width="4" height="7"/><path d="M114.500 146V149.500 M114.500 156.500V160"/>
<path d="M152.700 146 C152.500 143.600 148.400 143.300 148.300 147.500 L148.300 156.500 C148.300 161 143.500 161.300 142.300 158.300 M144 150.500H151.300 M150.400 156.500 L154.800 160.800 M154.800 156.500 L150.400 160.800"/>
<path d="M804.30 145.90 L804.55 143.41 L807.45 143.41 L807.70 145.90 L809.82 146.78 L811.76 145.19 L813.81 147.24 L812.22 149.18 L813.10 151.30 L815.59 151.55 L815.59 154.45 L813.10 154.70 L812.22 156.82 L813.81 158.76 L811.76 160.81 L809.82 159.22 L807.70 160.10 L807.45 162.59 L804.55 162.59 L804.30 160.10 L802.18 159.22 L800.24 160.81 L798.19 158.76 L799.78 156.82 L798.90 154.70 L796.41 154.45 L796.41 151.55 L798.90 151.30 L799.78 149.18 L798.19 147.24 L800.24 145.19 L802.18 146.78Z" stroke-linejoin="round"/><circle cx="806" cy="153" r="2.8"/>
<path d="M837.500 150V145.500H842 M837.500 145.500 L842.800 150.800  M848 145.500H852.500V150 M852.500 145.500 L847.200 150.800  M837.500 156V160.500H842 M837.500 160.500 L842.800 155.200  M848 160.500H852.500V156 M852.500 160.500 L847.200 155.200"/>
<path d="M875 146.500 H879.300 L880.600 144.500 H886.400 L887.700 146.500 H892 Q893.500 146.500 893.500 148 V159 Q893.500 160.500 892 160.500 H875 Q873.500 160.500 873.500 159 V148 Q873.500 146.500 875 146.500Z" stroke-linejoin="round"/><circle cx="883.500" cy="153.500" r="4"/>
<circle cx="871.500" cy="560.500" r="5.500"/>
<path d="M877.00 560.50L879.10 560.50 M875.39 564.39L876.87 565.87 M871.50 566.00L871.50 568.10 M867.61 564.39L866.13 565.87 M866.00 560.50L863.90 560.50 M867.61 556.61L866.13 555.13 M871.50 555.00L871.50 552.90 M875.39 556.61L876.87 555.13"/>
</g>
<g fill="none" stroke="#babdc6" stroke-width="1.15"><path d="M269.800 148.200 L266.400 151.500 L269.800 154.800 M266.400 151.500 H273 C276.500 151.500 278.600 153.600 278.600 157.600"/><path d="M303.200 148.200 L306.600 151.500 L303.200 154.800 M306.600 151.500 H300 C296.500 151.500 294.400 153.600 294.400 157.600"/></g>
<circle cx="76.500" cy="523.700" r="16" fill="#fff" stroke="#e6e6e8"/>
<path d="M66.200 519.200H75V529.300H70.600V523H66.200Z M82.300 519.200H87L82.800 529.300H78.100Z" fill="#131722"/><circle cx="77.700" cy="521" r="1.800" fill="#131722"/>
<rect x="216" y="581" width="1" height="13" fill="#d4d4d4"/><rect x="449" y="581" width="1" height="13" fill="#d4d4d4"/><rect x="236.500" y="592.500" width="10" height="4" fill="#fff" stroke="#c9cef0"/>
</svg>
</body></html>
